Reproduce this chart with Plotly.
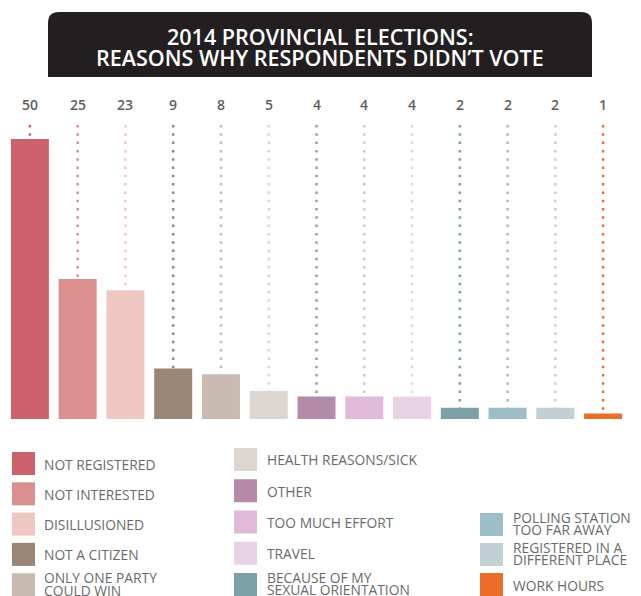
import plotly.graph_objects as go

# Survey results: reasons respondents gave for not voting
reasons = [
    "NOT REGISTERED",
    "NOT INTERESTED",
    "DISILLUSIONED",
    "NOT A CITIZEN",
    "ONLY ONE PARTY<br>COULD WIN",
    "HEALTH REASONS/SICK",
    "OTHER",
    "TOO MUCH EFFORT",
    "TRAVEL",
    "BECAUSE OF MY<br>SEXUAL ORIENTATION",
    "POLLING STATION<br>TOO FAR AWAY",
    "REGISTERED IN A<br>DIFFERENT PLACE",
    "WORK HOURS",
]
counts = [50, 25, 23, 9, 8, 5, 4, 4, 4, 2, 2, 2, 1]
colors = [
    "#cb626b", "#db9090", "#efc8c3", "#9a8576", "#c9bbb2", "#ddd5cf",
    "#b48ba9", "#e0bbd9", "#ead2e6", "#7ba0a5", "#9dbdc8", "#c2d0d5",
    "#e86e2a",
]
# legend columns: how many reasons go in each column
legend_columns = [5, 5, 3]
title_lines = ["2014 PROVINCIAL ELECTIONS:", "REASONS WHY RESPONDENTS DIDN’T VOTE"]

W, H = 641, 596
ML, MR, MT, MB = 6, 14, 95, 177
Y_MAX = 57.86          # top of the value axis
DOT_TOP = 52.5         # where the dotted leader lines start
LABEL_Y = 56.1         # value labels above the leaders

FONT = "Open Sans"
TEXT_GREY = "#6a6a6a"

plot_w = W - ML - MR
plot_h = H - MT - MB


def px(x):
    return (x - ML) / plot_w


def py(y):
    return (H - MB - y) / plot_h


fig = go.Figure()

fig.add_trace(go.Bar(
    x=reasons, y=counts,
    marker=dict(color=colors, line=dict(width=0)),
    hoverinfo="x+y", showlegend=False,
))

# dotted leaders from the value label down to each bar
for r, v, c in zip(reasons, counts, colors):
    fig.add_trace(go.Scatter(
        x=[r, r], y=[DOT_TOP, v], mode="lines",
        line=dict(color=c, width=2.5, dash="2.5px,5.8px"),
        hoverinfo="skip", showlegend=False,
    ))

annotations = []
for r, v in zip(reasons, counts):
    annotations.append(dict(
        x=r, y=LABEL_Y, xref="x", yref="y", text=str(v),
        showarrow=False, xanchor="center", yanchor="middle",
        font=dict(family=FONT, size=14, color="#5e5e5e", weight=600),
    ))

shapes = []

# title banner with rounded top corners
bx0, bx1, by0, by1, rad = 48, 592, 12, 77, 11
path = (
    f"M {px(bx0)},{py(by1)} "
    f"L {px(bx0)},{py(by0 + rad)} "
    f"Q {px(bx0)},{py(by0)} {px(bx0 + rad)},{py(by0)} "
    f"L {px(bx1 - rad)},{py(by0)} "
    f"Q {px(bx1)},{py(by0)} {px(bx1)},{py(by0 + rad)} "
    f"L {px(bx1)},{py(by1)} Z"
)
shapes.append(dict(type="path", xref="paper", yref="paper", path=path,
                   fillcolor="#231f20", line=dict(width=0), layer="above"))

for line_text, yc in zip(title_lines, [36.5, 57.5]):
    annotations.append(dict(
        x=px(320), y=py(yc), xref="paper", yref="paper", text=line_text,
        showarrow=False, xanchor="center", yanchor="middle",
        font=dict(family=FONT, size=21.5, color="white", weight=600),
    ))

# legend laid out in three columns
col_swatch_x = [12, 234, 480]
col_text_x = [41.5, 264.5, 510.5]
col_start_y = [463.5, 459.5, 524.5]
col_step = [30.3, 31.25, 30.0]
SW = 23
LINE_GAP = 12.5

idx = 0
for ci, n in enumerate(legend_columns):
    for k in range(n):
        yc = col_start_y[ci] + k * col_step[ci]
        x0 = col_swatch_x[ci]
        shapes.append(dict(
            type="rect", xref="paper", yref="paper",
            x0=px(x0), x1=px(x0 + SW), y0=py(yc + SW / 2), y1=py(yc - SW / 2),
            fillcolor=colors[idx], line=dict(width=0),
        ))
        parts = reasons[idx].split("<br>")
        first = yc - (len(parts) - 1) * LINE_GAP / 2
        shift = 0.5 if len(parts) == 1 else -0.8
        for j, part in enumerate(parts):
            annotations.append(dict(
                x=px(col_text_x[ci]), y=py(first + j * LINE_GAP + shift),
                xref="paper", yref="paper",
                text=part, showarrow=False, xanchor="left",
                yanchor="middle", align="left",
                font=dict(family=FONT, size=13.8, color=TEXT_GREY),
            ))
        idx += 1

fig.update_layout(
    width=W, height=H,
    margin=dict(l=ML, r=MR, t=MT, b=MB, pad=0),
    paper_bgcolor="white", plot_bgcolor="white",
    bargap=0.204,
    xaxis=dict(visible=False, range=[-0.5, len(reasons) - 0.5]),
    yaxis=dict(visible=False, range=[0, Y_MAX]),
    shapes=shapes, annotations=annotations,
    font=dict(family=FONT),
)

fig.write_html("out.html")
